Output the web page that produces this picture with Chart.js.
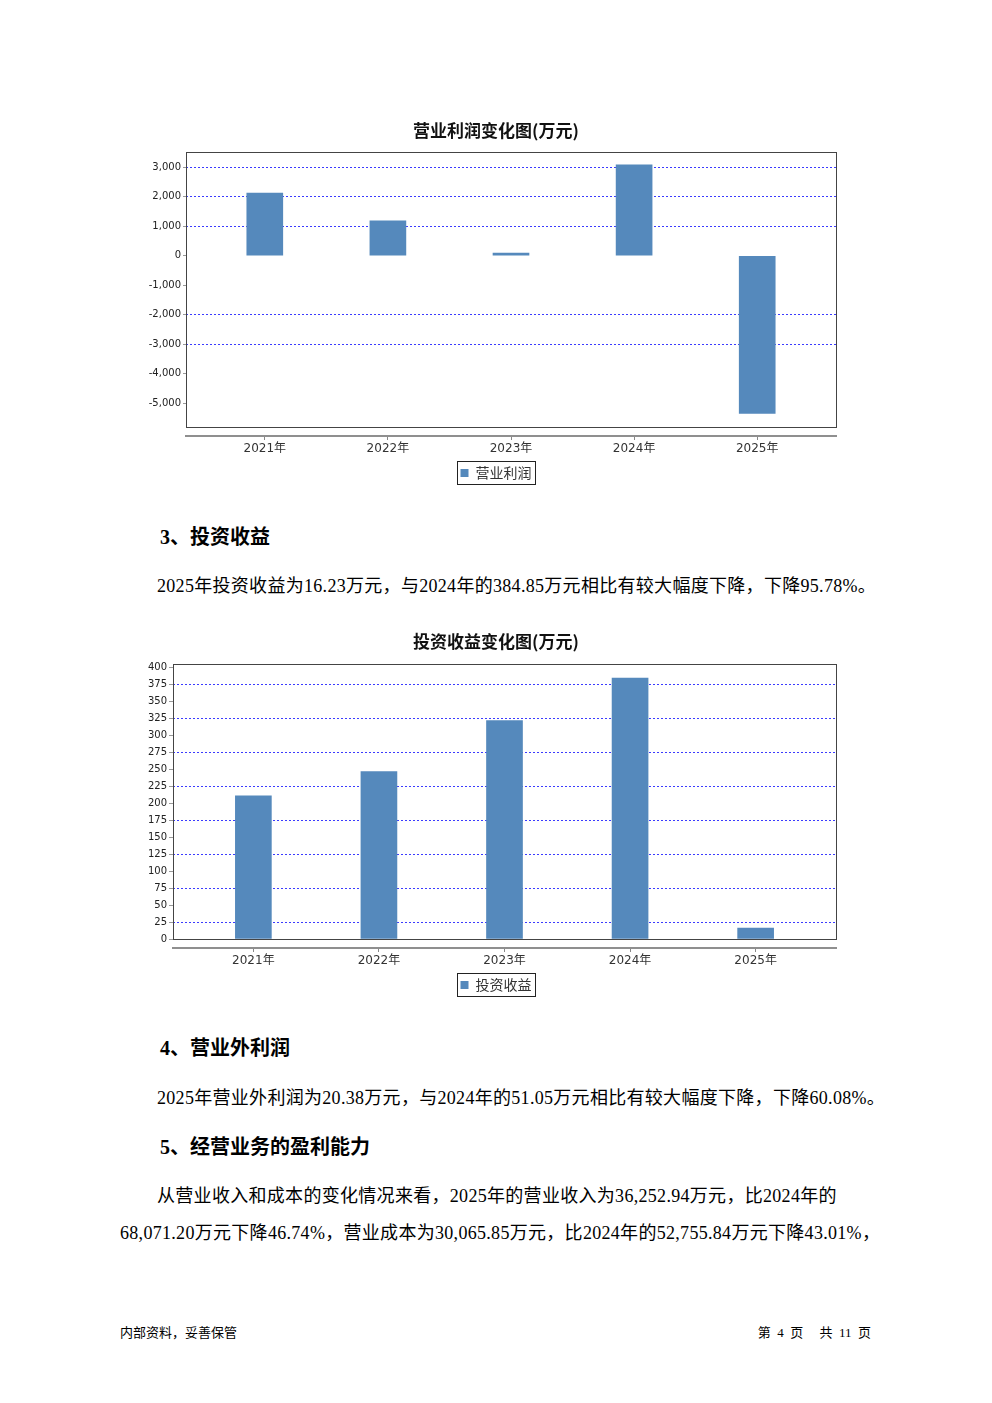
<!DOCTYPE html>
<html lang="zh-CN">
<head>
<meta charset="utf-8">
<title>营业利润与投资收益</title>
<script src="https://cdn.jsdelivr.net/npm/chart.js@4.4.1/dist/chart.umd.min.js"></script>
<style>
  html, body { margin: 0; padding: 0; background: #fff; }
  body {
    width: 992px; height: 1403px; position: relative; overflow: hidden;
    font-family: "Liberation Serif", "Noto Sans CJK SC", serif; color: #000;
  }
  canvas { position: absolute; left: 120px; }
  #chart-profit { top: 110px; }
  #chart-invest { top: 620px; }
  .h { position: absolute; left: 160px; font-size: 20px; font-weight: bold; line-height: 24px; white-space: nowrap; }
  .p { position: absolute; left: 157px; font-size: 18px; line-height: 24px; white-space: nowrap; letter-spacing: 0.3px; }
  .p5 { position: absolute; left: 120px; top: 1178px; font-size: 18px; line-height: 37px; white-space: nowrap; text-indent: 37px; letter-spacing: 0.3px; }
  .foot { position: absolute; top: 1325px; font-size: 13px; line-height: 16px; white-space: nowrap; }
</style>
</head>
<body>
<canvas id="chart-profit" width="752" height="390"></canvas>

<div class="h" style="top:525px">3、投资收益</div>
<div class="p" style="top:574px">2025年投资收益为16.23万元，与2024年的384.85万元相比有较大幅度下降，下降95.78%。</div>

<canvas id="chart-invest" width="752" height="392"></canvas>

<div class="h" style="top:1036px">4、营业外利润</div>
<div class="p" style="top:1086px">2025年营业外利润为20.38万元，与2024年的51.05万元相比有较大幅度下降，下降60.08%。</div>

<div class="h" style="top:1135px">5、经营业务的盈利能力</div>
<div class="p5">从营业收入和成本的变化情况来看，2025年的营业收入为36,252.94万元，比2024年的<br>68,071.20万元下降46.74%，营业成本为30,065.85万元，比2024年的52,755.84万元下降43.01%，</div>

<div class="foot" style="left:120px">内部资料，妥善保管</div>
<div class="foot" style="right:121px">第&nbsp;&nbsp;4&nbsp;&nbsp;页&nbsp;&nbsp;&nbsp;&nbsp;&nbsp;共&nbsp;&nbsp;11&nbsp;&nbsp;页</div>

<script>
const years = ["2021年", "2022年", "2023年", "2024年", "2025年"];

const operatingProfit = [2125, 1186, 90, 3085, -5356];
const profitAxisMin = -5814;
const profitAxisMax = 3508;
const profitTicks = [-5000, -4000, -3000, -2000, -1000, 0, 1000, 2000, 3000];
const profitGridTicks = [3000, 2000, 1000, -2000, -3000];

const investIncome = [211, 247, 322, 384.85, 16.23];
const investAxisMin = 0;
const investAxisMax = 405;
const investTicks = [0, 25, 50, 75, 100, 125, 150, 175, 200, 225, 250, 275, 300, 325, 350, 375, 400];
const investGridTicks = [25, 75, 125, 175, 225, 275, 325, 375];

const BAR = "#5589bc";
const GRID = "#3b3bff";
const SANS = '"DejaVu Sans", "Noto Sans CJK SC", sans-serif';
const CJK = '"Noto Sans CJK SC", sans-serif';

// plot outline under the bars, legend frame on top
const plotFrame = {
  id: "plotFrame",
  beforeDatasetsDraw(chart) {
    const { ctx, chartArea: a } = chart;
    ctx.save();
    ctx.strokeStyle = "#444";
    ctx.lineWidth = 1;
    ctx.strokeRect(Math.round(a.left) + 0.5, Math.round(a.top) + 0.5,
      Math.round(a.right - a.left), Math.round(a.bottom - a.top));
    ctx.restore();
  },
  afterDraw(chart) {
    const box = chart.legend && chart.legend.legendHitBoxes[0];
    if (!box) return;
    const { ctx } = chart;
    ctx.save();
    ctx.strokeStyle = "#222";
    ctx.lineWidth = 1;
    ctx.strokeRect(Math.round(box.left - 4) + 0.5, Math.round(box.top - 5) + 0.5,
      Math.round(box.width + 7), Math.round(box.height + 9));
    ctx.restore();
  },
};

// invisible axis used only to reserve room (gap under the plot, right margin)
function spacer(position, size) {
  return {
    type: "linear",
    position,
    weight: 0,
    ticks: { display: false },
    grid: { display: false },
    border: { display: false },
    afterFit: (s) => {
      if (position === "bottom") s.height = size;
      else s.width = size;
    },
  };
}

function buildBarChart(id, opts) {
  return new Chart(document.getElementById(id), {
    type: "bar",
    data: {
      labels: years.map((_, i) => i),
      datasets: [{
        label: opts.label,
        data: opts.values,
        backgroundColor: BAR,
        borderWidth: 0,
        barThickness: 36,
        xAxisID: "x",
        yAxisID: "y",
      }],
    },
    plugins: [plotFrame],
    options: {
      responsive: false,
      animation: false,
      layout: { padding: { left: 0, right: 0, top: 0, bottom: 10 } },
      plugins: {
        title: {
          display: true,
          text: opts.title,
          color: "#111",
          font: { family: CJK, size: 17, weight: "bold" },
          padding: opts.titlePad,
        },
        legend: {
          display: true,
          position: "bottom",
          labels: { boxWidth: 8, boxHeight: 8, padding: 10, color: "#333", font: { family: CJK, size: 14 } },
        },
        tooltip: { enabled: false },
      },
      scales: {
        x: {
          type: "linear",
          position: "bottom",
          weight: 1,
          offset: false,
          min: -0.64,
          max: 4.64,
          afterFit: (s) => { s.height = 20; },
          afterBuildTicks: (axis) => { axis.ticks = years.map((_, i) => ({ value: i })); },
          ticks: {
            autoSkip: false,
            maxRotation: 0,
            padding: 2,
            color: "#333",
            font: { family: SANS, size: 12 },
            callback: (v) => years[v] ?? "",
          },
          grid: { offset: false, drawOnChartArea: false, drawTicks: true, tickLength: 4, color: "#888", tickColor: "#888" },
          border: { display: true, color: "#8f8f8f", width: 2 },
        },
        xGap: spacer("bottom", 9),
        yPad: spacer("right", 36),
        y: {
          min: opts.min,
          max: opts.max,
          afterFit: (s) => { s.width = opts.yWidth; },
          afterBuildTicks: (axis) => { axis.ticks = opts.ticks.map((v) => ({ value: v })); },
          ticks: {
            autoSkip: false,
            padding: 2,
            color: "#222",
            font: { family: SANS, size: 10 },
            callback: opts.fmt,
          },
          grid: {
            color: (c) => (c.tick && opts.gridTicks.includes(c.tick.value) ? GRID : "rgba(0,0,0,0)"),
            tickColor: "#999",
            tickLength: opts.tickLen,
            lineWidth: 1,
          },
          border: { display: false, dash: [2, 2] },
        },
      },
    },
  });
}

buildBarChart("chart-profit", {
  title: "营业利润变化图(万元)",
  label: "营业利润",
  values: operatingProfit,
  min: profitAxisMin,
  max: profitAxisMax,
  ticks: profitTicks,
  gridTicks: profitGridTicks,
  yWidth: 66,
  tickLen: 3,
  titlePad: { top: 10, bottom: 12 },
  fmt: (v) => v.toLocaleString("en-US"),
});

buildBarChart("chart-invest", {
  title: "投资收益变化图(万元)",
  label: "投资收益",
  values: investIncome,
  min: investAxisMin,
  max: investAxisMax,
  ticks: investTicks,
  gridTicks: investGridTicks,
  yWidth: 53,
  tickLen: 4,
  titlePad: { top: 11, bottom: 13 },
  fmt: (v) => String(v),
});
</script>
</body>
</html>
